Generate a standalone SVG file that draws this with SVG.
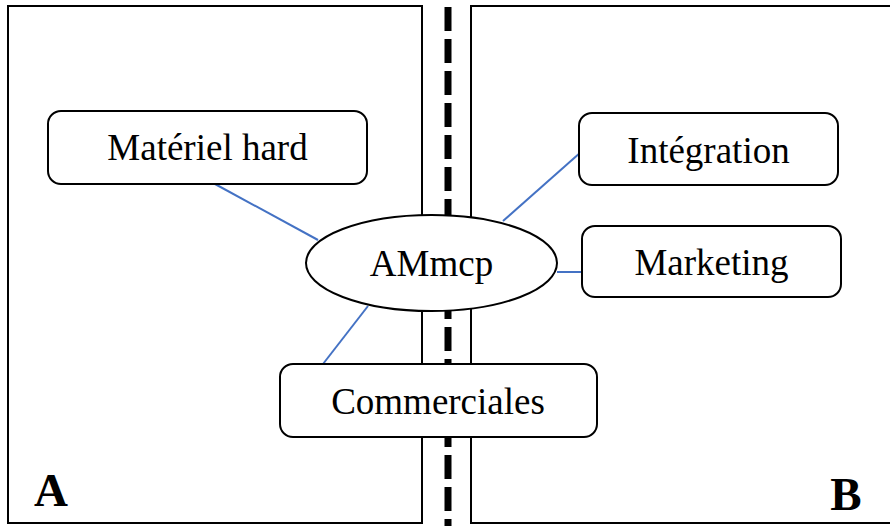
<svg xmlns="http://www.w3.org/2000/svg" width="890" height="526" viewBox="0 0 890 526">
<style>
.panel{fill:none;stroke:#000;stroke-width:2}
.box{fill:#fff;stroke:#000;stroke-width:2}
.lbl{font-family:"Liberation Serif","Times New Roman",serif;font-size:37px;fill:#000;text-anchor:middle}
.big{font-family:"Liberation Serif","Times New Roman",serif;font-size:47px;font-weight:bold;fill:#000;text-anchor:middle}
.conn{stroke:#4472C4;stroke-width:2;fill:none}
</style>
<rect width="890" height="526" fill="#fff"/>
<g id="panelA">
<rect class="panel" x="8" y="6" width="414" height="517"/>
<text class="big" x="51" y="506">A</text>
</g>
<g id="panelB">
<rect class="panel" x="471" y="6" width="430" height="517"/>
<text class="big" x="846" y="510">B</text>
</g>
<g id="divider">
<line x1="448" y1="7" x2="448" y2="526" stroke="#000" stroke-width="7" stroke-dasharray="24 8"/>
</g>
<g id="connectors">
<line class="conn" x1="215" y1="184" x2="318" y2="240"/>
<line class="conn" x1="368" y1="306" x2="323" y2="364"/>
<line class="conn" x1="503" y1="221" x2="581" y2="152"/>
<line class="conn" x1="557" y1="272" x2="584" y2="272"/>
</g>
<g id="materiel">
<rect class="box" x="48" y="111" width="319" height="73" rx="13"/>
<text class="lbl" x="207.5" y="160">Matériel hard</text>
</g>
<g id="amMcp">
<ellipse class="box" cx="431.5" cy="263" rx="125.5" ry="48"/>
<text class="lbl" x="431.5" y="276">AMmcp</text>
</g>
<g id="commerciales">
<rect class="box" x="280" y="364" width="317" height="73" rx="13"/>
<text class="lbl" x="438" y="414">Commerciales</text>
</g>
<g id="integration">
<rect class="box" x="579" y="113" width="259" height="72" rx="13"/>
<text class="lbl" x="708.5" y="163">Intégration</text>
</g>
<g id="marketing">
<rect class="box" x="582" y="226" width="259" height="71" rx="13"/>
<text class="lbl" x="711.5" y="275">Marketing</text>
</g>
</svg>
